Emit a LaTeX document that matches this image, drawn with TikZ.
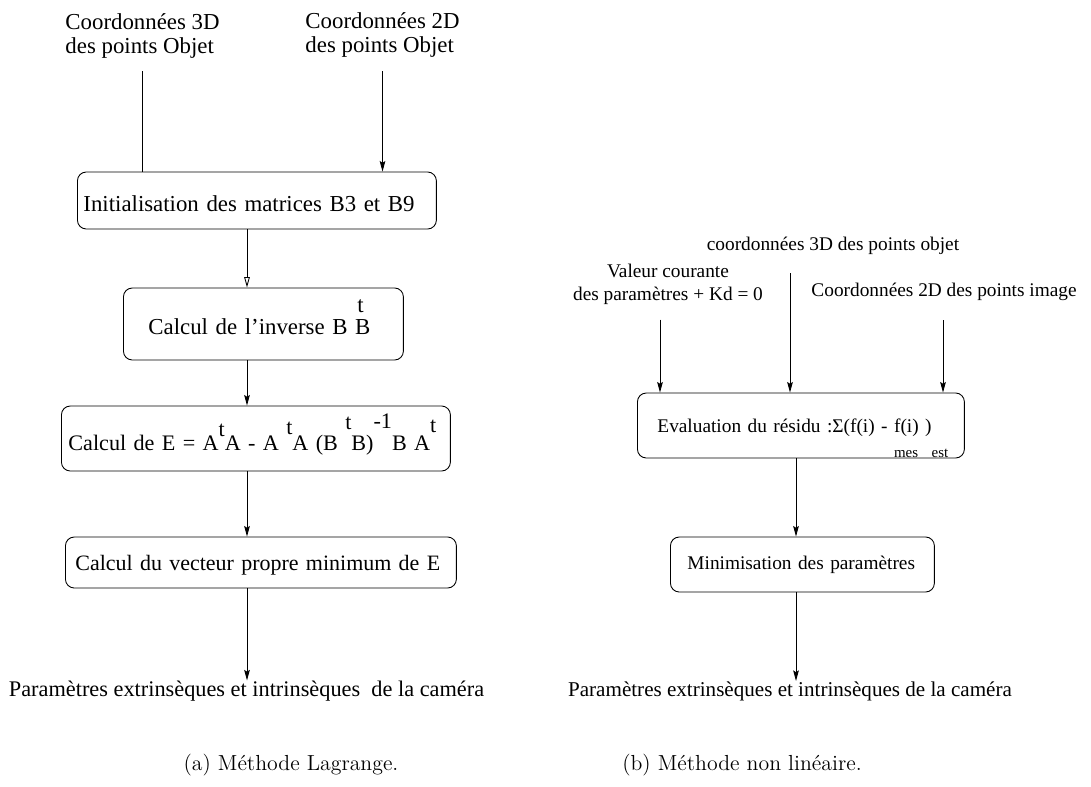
\documentclass[tikz,border=0pt]{standalone}
\usepackage{fontspec}
\newfontfamily\figfont{Liberation Serif}
\usetikzlibrary{arrows.meta,positioning}

\newcommand{\expo}[2][0.62em]{\raisebox{#1}{#2}}

\tikzset{
  etape/.style={draw, rounded corners=5pt, inner ysep=0pt, align=left, anchor=west, text depth=0pt},
  gauche/.style={font=\figfont\fontsize{13}{14}\selectfont},
  droite/.style={font=\figfont\fontsize{11}{13}\selectfont},
  legende/.style={font=\fontsize{12.4}{15}\selectfont, inner sep=0pt},
  fleche/.style={-{Stealth[length=6pt,width=3.2pt,inset=1pt]}},
  fleche ouverte/.style={-{Triangle[open,length=6pt,width=3.2pt]}},
}

\begin{document}
\begin{tikzpicture}[x=0.02cm,y=-0.02cm,line width=0.5pt]
  \useasboundingbox (0,0) rectangle (1091,787);

  % (a) methode Lagrange
  \node[gauche,align=left,anchor=north west,inner sep=0pt] (obj3d) at (65,13)
    {Coordonnées 3D\\des points Objet};
  \node[gauche,align=left,anchor=north west,inner sep=0pt] (obj2d) at (305,12)
    {Coordonnées 2D\\des points Objet};

  \node[etape,gauche,minimum height=1.14cm,inner xsep=0.12cm,text width=6.94cm,text height=13pt] (init) at (77,200.5)
    {\mbox{Initialisation des matrices B3 et B9}};
  \node[etape,gauche,minimum height=1.44cm,inner xsep=0.5cm,text width=4.6cm,text height=12.5pt] (inverse) at (123,324)
    {\mbox{Calcul de l’inverse B \rlap{\raisebox{1.0em}{\hspace{0.1em}t}}B}};
  \node[etape,gauche,font=\figfont\fontsize{12.6}{14}\selectfont,minimum height=1.3cm,inner xsep=0.14cm,text width=7.5cm,text height=13.6pt] (calcE) at (61,438.5)
    {\mbox{Calcul de E = A\expo{t}A - A \expo[0.7em]{t}A (B \expo[0.95em]{t}B)\expo[1em]{-1}B A\expo[0.8em]{t}}};
  \node[etape,gauche,font=\figfont\fontsize{12.5}{14}\selectfont,minimum height=1.02cm,inner xsep=0.2cm,text width=7.42cm,text height=9pt] (vecteur) at (65,562.5)
    {\mbox{Calcul du vecteur propre minimum de E}};
  \node[gauche,font=\figfont\fontsize{12.7}{14}\selectfont,inner sep=0pt] (sortieA) at (246.5,691)
    {Paramètres extrinsèques et intrinsèques \ de la caméra};

  \coordinate (colA) at (247,0);
  \draw (obj3d.south) ++(0,12) -- (obj3d.south |- init.north);
  \draw[fleche] (obj2d.south) ++(0,13) -- (obj2d.south |- init.north);
  \draw[fleche ouverte] (init.south -| colA) -- (inverse.north -| colA);
  \draw[fleche] (inverse.south -| colA) -- (calcE.north -| colA);
  \draw[fleche] (calcE.south -| colA) -- (vecteur.north -| colA);
  \draw[fleche] (vecteur.south -| colA) -- (sortieA.north -| colA);

  \node[legende] (legA) at (291,765) {(a) Méthode Lagrange.};

  % (b) methode non lineaire
  \node[droite,inner sep=0pt] (obj3dB) at (833,246) {coordonnées 3D des points objet};
  \node[droite,align=center,inner sep=0pt] (valeur) at (668,284)
    {Valeur courante\\des paramètres + Kd = 0};
  \node[droite,inner sep=0pt,anchor=west] (img2d) at (811,292) {Coordonnées 2D des points image};

  \node[etape,droite,minimum height=1.3cm,inner xsep=0.4cm,text width=5.74cm,text height=8.5pt] (residu) at (637,425.5)
    {\mbox{Evaluation du résidu :Σ(f(i) - \rlap{\raisebox{-1.25em}{\fontsize{8.5}{10}\selectfont mes}}f(i)
     \rlap{\raisebox{-1.25em}{\fontsize{8.5}{10}\selectfont \ est}})}};
  \node[etape,droite,minimum height=1.1cm,inner xsep=0.34cm,text width=4.6cm,text height=6.2pt] (minim) at (670,564.5)
    {\mbox{Minimisation des paramètres}};
  \node[droite,font=\figfont\fontsize{12}{14}\selectfont,inner sep=0pt] (sortieB) at (790,691)
    {Paramètres extrinsèques et intrinsèques de la caméra};

  \coordinate (colB) at (796,0);
  \coordinate (entreeB) at (790,273);
  \draw[fleche] (valeur.south -| 660,0) ++(0,15) -- (residu.north -| 660,0);
  \draw[fleche] (entreeB) -- (residu.north -| entreeB);
  \draw[fleche] (img2d.south -| 943,0) ++(0,19) -- (residu.north -| 943,0);
  \draw[fleche] (residu.south -| colB) -- (minim.north -| colB);
  \draw[fleche] (minim.south -| colB) -- (sortieB.north -| colB);

  \node[legende] (legB) at (742,765) {(b) Méthode non linéaire.};
\end{tikzpicture}
\end{document}
